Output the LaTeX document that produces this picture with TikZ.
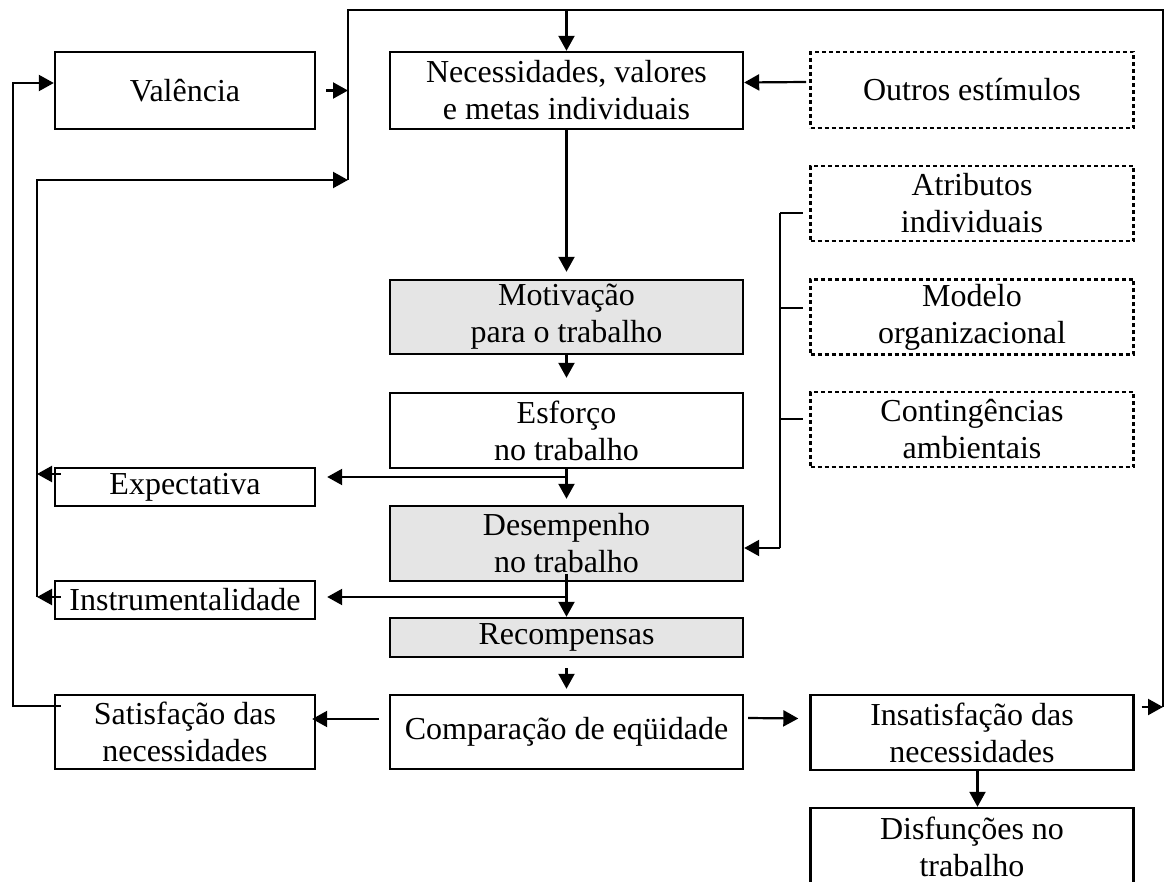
\documentclass[tikz,border=0pt]{standalone}
\usepackage{fontspec}
\setmainfont{Liberation Serif}
\usetikzlibrary{arrows.meta,calc}
\begin{document}
\begin{tikzpicture}[x=1pt,y=-1pt,
  box/.style={draw,line width=2.4pt,inner sep=0pt,align=center,
    font=\fontsize{32}{37}\selectfont},
  wide/.style={box,minimum width=353},
  side/.style={box,minimum width=260},
  ext/.style={box,minimum width=323},
  dashbox/.style={ext,line width=2.6pt,dash pattern=on 4pt off 3pt},
  shaded/.style={fill=black!10},
  conn/.style={line width=2.2pt},
  arr/.style={conn,-{Triangle[length=15pt,width=16pt]}}]
\path[use as bounding box] (0,0) rectangle (1165,882);
\clip (0,0) rectangle (1165,882);

% left column
\node[side,minimum height=77] (val) at (185,90.5) {Valência};
\node[side,minimum height=38] (exp) at (185,487) {Expectativa};
\node[side,minimum height=38] (ins) at (185,600) {Instrumentalidade};
\node[side,minimum height=74] (sat) at (185,732) {Satisfação das\\necessidades};

% central column
\node[wide,minimum height=77] (nec) at (566.5,90.5) {Necessidades, valores\\e metas individuais};
\node[wide,shaded,minimum height=74] (mot) at (566.5,317) {Motivação\\para o trabalho};
\node[wide,minimum height=75] (esf) at (566.5,430.5) {Esforço\\no trabalho};
\node[wide,shaded,minimum height=75] (des) at (566.5,543.5) {Desempenho\\no trabalho};
\node[wide,shaded,minimum height=39] (rec) at (566.5,637.5) {Recompensas};
\node[wide,minimum height=74] (com) at (566.5,732) {Comparação de eqüidade};

% right column
\node[dashbox,minimum height=76] (out) at (972,90) {Outros estímulos};
\node[dashbox,minimum height=75] (atr) at (972,203.5) {Atributos\\individuais};
\node[dashbox,minimum height=75] (mod) at (972,317) {Modelo\\organizacional};
\node[dashbox,minimum height=75] (con) at (972,429.5) {Contingências\\ambientais};
\node[ext,minimum height=75] (insat) at (972,732.5) {Insatisfação das\\necessidades};
\node[ext,minimum height=77] (dis) at (972,846.5) {Disfunções no\\trabalho};

% routing points of the feedback lines
\coordinate (topR) at (1163,10);
\coordinate (exitR) at (1163,707);
\coordinate (topL) at (348,10);
\coordinate (junV) at (348,180);
\coordinate (leftA) at (37,180);
\coordinate (leftB) at (37,597);
\coordinate (expA) at (37,474);
\coordinate (outerB) at (13,706);
\coordinate (outerT) at (13,83);
\coordinate (brT) at (780,213);
\coordinate (brM) at (780,308);
\coordinate (brC) at (780,419);
\coordinate (brB) at (780,548);
\coordinate (expB) at (566.5,477);
\coordinate (insB) at (566.5,597);

% other stimuli feed the needs
\draw[arr] ($(out.west)+(-3,-8)$) -- ($(nec.east)+(0,-8)$);

% dissatisfaction loop back to the needs
\draw[arr] ($(insat.east |- exitR)+(7,0)$) -- (exitR);
\draw[conn] (exitR) -- (topR) -- (topL) -- (junV);
\draw[arr] (nec.north |- topR) -- (nec.north);
\draw[arr] ($(val.east)+(10,0)$) -- (val.east -| junV);
\draw[arr] (leftB) -- (leftA) -- (junV);
\draw[arr] ($(expA -| exp.west)+(7,0)$) -- (expA);
\draw[arr] ($(leftB -| ins.west)+(7,0)$) -- (leftB);
\draw[arr] ($(outerB -| sat.west)+(7,0)$) -- (outerB) -- (outerT) -- (outerT -| val.west);

% main chain
\draw[arr] (nec.south) -- ($(mot.north)+(0,-7)$);
\draw[arr] (mot.south) -- ($(esf.north)+(0,-14)$);
\draw[arr] (esf.south) -- ($(des.north)+(0,-6)$);
\draw[arr] (expB) -- ($(expB -| exp.east)+(11,0)$);
\draw[arr] ($(des.south)+(0,-8)$) -- (rec.north);
\draw[arr] (insB) -- ($(insB -| ins.east)+(11,0)$);
\draw[arr] ($(rec.south)+(0,10)$) -- ($(com.north)+(0,-5)$);
\draw[arr] ($(com.west)+(-10,-13)$) -- ($(sat.east)+(-4,-13)$);
\draw[arr] ($(com.east)+(4,-14)$) -- ($(insat.west)+(-11,-14)$);
\draw[arr] ($(insat.south)+(5.5,-2)$) -- ($(dis.north)+(5.5,0)$);

% moderating factors bracket
\draw[conn] (brT) -- (brB);
\draw[conn] (brT) -- ($(brT -| atr.west)+(-6,0)$);
\draw[conn] (brM) -- ($(brM -| mod.west)+(-6,0)$);
\draw[conn] (brC) -- ($(brC -| con.west)+(-6,0)$);
\draw[arr] (brB) -- (brB -| des.east);
\end{tikzpicture}
\end{document}
